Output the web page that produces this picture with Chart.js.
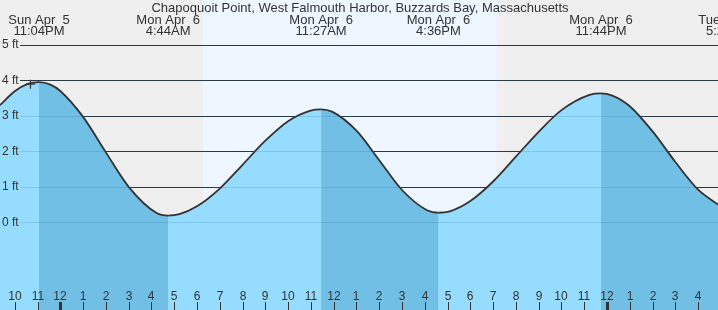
<!DOCTYPE html>
<html>
<head>
<meta charset="utf-8">
<script src="https://cdn.jsdelivr.net/npm/chart.js@4"></script>
<style>
  body { margin: 0; background: #efefef; }
  #wrap { width: 718px; height: 310px; }
</style>
</head>
<body>
<div id="wrap"><canvas id="tide" width="718" height="310"></canvas></div>
<script>
const title = "Chapoquoit Point, West Falmouth Harbor, Buzzards Bay, Massachusetts";

// hours counted from midnight starting Mon Apr 6, heights in feet
const tideHours = [-2.647, -2, -1.433, -0.933, -0.433, 0, 1, 2, 3, 4.233, 4.733, 5.233, 6, 7, 8,
  9, 10, 10.95, 11.45, 11.95, 13, 14, 15, 16.1, 16.6, 17.1, 18, 19, 20, 21, 22, 23.233, 23.733,
  24.233, 25, 26, 27, 28, 28.872];
const tideFeet = [3.30, 3.69, 3.90, 3.95, 3.88, 3.70, 2.97, 1.97, 1.00, 0.26, 0.19, 0.23, 0.45,
  0.95, 1.62, 2.30, 2.85, 3.14, 3.18, 3.11, 2.58, 1.75, 0.91, 0.34, 0.27, 0.31, 0.60, 1.15, 1.85,
  2.55, 3.16, 3.59, 3.63, 3.57, 3.27, 2.56, 1.70, 0.92, 0.50];

// high / low tide events (the double gap before the day number is a no-break space)
const eventHours = [-0.933, 4.733, 11.45, 16.6, 23.733, 29.33];
const eventDays = ["Sun Apr\u00a0 5", "Mon Apr\u00a0 6", "Mon Apr\u00a0 6", "Mon Apr\u00a0 6",
  "Mon Apr\u00a0 6", "Tue Apr\u00a0 7"];
const eventTimes = ["11:04PM", "4:44AM", "11:27AM", "4:36PM", "11:44PM", "5:20AM"];

const hourTicks = [-2, -1, 0, 1, 2, 3, 4, 5, 6, 7, 8, 9, 10, 11, 12, 13, 14, 15, 16, 17, 18, 19,
  20, 21, 22, 23, 24, 25, 26, 27, 28];
const hourLabels = ["10", "11", "12", "1", "2", "3", "4", "5", "6", "7", "8", "9", "10", "11",
  "12", "1", "2", "3", "4", "5", "6", "7", "8", "9", "10", "11", "12", "1", "2", "3", "4"];

const footTicks = [0, 1, 2, 3, 4, 5];
const daylight = [6.27, 19.16];
const nowMark = [{x: -1.31, y: 3.89}];

// colours
const nightColor = "#efefef";
const dayColor = "#eef6ff";
const riseColor = "#96dcfe";
const fallColor = "#72bfe5";
const inkColor = "#333333";
const font = "'Liberation Sans', Arial, sans-serif";

const decor = {
  id: "decor",
  beforeDraw(chart) {
    const {ctx, width, height} = chart;
    const x = chart.scales.x;
    ctx.save();
    ctx.fillStyle = nightColor;
    ctx.fillRect(0, 0, width, height);
    const a = x.getPixelForValue(daylight[0]);
    const b = x.getPixelForValue(daylight[1]);
    ctx.fillStyle = dayColor;
    ctx.fillRect(a, 0, b - a, height);
    ctx.restore();
  },
  beforeDatasetsDraw(chart) {
    const {ctx, width} = chart;
    const y = chart.scales.y;
    ctx.save();
    ctx.strokeStyle = "#2e2e2e";
    ctx.lineWidth = 1;
    footTicks.forEach(v => {
      const py = Math.round(y.getPixelForValue(v)) + 0.5;
      ctx.beginPath();
      ctx.moveTo(20, py);
      ctx.lineTo(width, py);
      ctx.stroke();
    });
    ctx.restore();
  },
  afterDatasetsDraw(chart) {
    // faint lines seen through the water
    const {ctx, width} = chart;
    const y = chart.scales.y;
    ctx.save();
    ctx.strokeStyle = "rgba(40,110,160,0.2)";
    ctx.lineWidth = 1;
    footTicks.forEach(v => {
      const py = Math.round(y.getPixelForValue(v)) + 0.5;
      ctx.beginPath();
      ctx.moveTo(20, py);
      ctx.lineTo(width, py);
      ctx.stroke();
    });
    ctx.restore();
  },
  afterDraw(chart) {
    const {ctx, width, height} = chart;
    const x = chart.scales.x;
    ctx.save();
    ctx.fillStyle = inkColor;
    ctx.textAlign = "center";
    ctx.textBaseline = "alphabetic";

    ctx.font = "13px " + font;
    ctx.fillText(title, 360, 11.5);

    eventHours.forEach((h, i) => {
      const px = x.getPixelForValue(h);
      ctx.fillText(eventDays[i], px, 24);
      ctx.fillText(eventTimes[i], px, 35);
    });

    // hour axis along the bottom
    ctx.font = "12px " + font;
    hourTicks.forEach((h, i) => {
      const px = Math.round(x.getPixelForValue(h));
      ctx.fillText(hourLabels[i], px, 300);
      const w = h % 24 === 0 ? 3 : 1;
      ctx.fillRect(px - Math.floor(w / 2), height - 8, w, 8);
    });
    ctx.restore();
  }
};

const tideData = tideHours.map((h, i) => ({x: h, y: tideFeet[i]}));

new Chart(document.getElementById("tide"), {
  type: "line",
  data: {
    datasets: [
      {
        data: nowMark,
        showLine: false,
        pointStyle: "cross",
        pointRadius: 4.5,
        borderColor: inkColor,
        borderWidth: 1.2,
        fill: false
      },
      {
        data: tideData,
        borderColor: inkColor,
        borderWidth: 1.8,
        backgroundColor: riseColor,
        pointRadius: 0,
        cubicInterpolationMode: "monotone",
        fill: "start",
        segment: {
          backgroundColor: c => c.p1.parsed.y < c.p0.parsed.y ? fallColor : riseColor
        }
      },
      {
        // plain water underneath, hides seams between the coloured stretches
        data: tideData,
        borderWidth: 0,
        backgroundColor: riseColor,
        pointRadius: 0,
        cubicInterpolationMode: "monotone",
        fill: "start"
      }
    ]
  },
  options: {
    responsive: false,
    animation: false,
    events: [],
    layout: { padding: 0, autoPadding: false },
    scales: {
      x: {
        type: "linear",
        display: false,
        min: -2.647,
        max: 28.872
      },
      y: {
        type: "linear",
        min: -2.47,
        max: 6.262,
        border: { display: false },
        grid: { display: false, drawTicks: false },
        afterBuildTicks: s => { s.ticks = footTicks.map(v => ({value: v})); },
        afterFit: s => { s.width = 0; s.paddingTop = 0; s.paddingBottom = 0; },
        ticks: {
          z: 1,
          mirror: true,
          padding: 2,
          color: inkColor,
          font: { family: font, size: 12 },
          callback: v => v + " ft"
        }
      }
    },
    plugins: {
      legend: { display: false },
      tooltip: { enabled: false }
    }
  },
  plugins: [decor]
});
</script>
</body>
</html>
